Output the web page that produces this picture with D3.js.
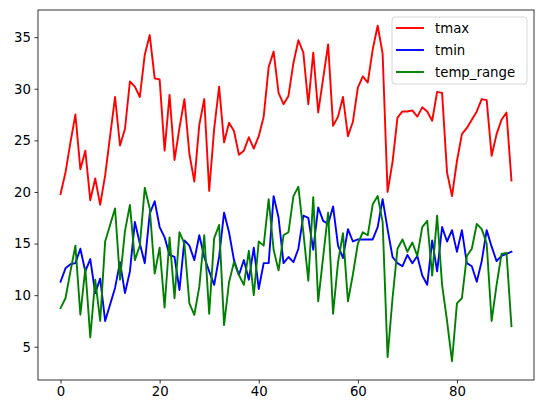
<!DOCTYPE html>
<html><head><meta charset="utf-8">
<script src="https://d3js.org/d3.v7.min.js"></script>
<style>body{margin:0;background:#fff}text{font-family:"DejaVu Sans",sans-serif}</style>
</head><body><svg id="c" width="543" height="413"></svg>
<script>
const tmax = [19.8,21.9,24.8,27.5,22.2,24.0,19.2,21.3,18.75,21.6,25.4,29.2,24.5,26.1,30.7,30.2,29.2,33.3,35.2,31.0,30.9,24.0,29.4,23.1,26.2,29.0,23.7,21.0,26.5,29.0,
20.1,26.1,30.2,24.8,26.7,25.9,23.6,24.0,25.3,24.2,25.4,27.3,32.1,33.6,29.6,28.5,29.3,32.5,34.7,33.5,28.5,33.5,27.7,31.0,34.3,26.4,27.3,29.2,25.4,26.8,30.1,31.2,30.6,33.8,36.1,33.4,
20.0,22.9,27.2,27.8,27.8,27.9,27.3,28.2,27.8,26.9,29.7,29.6,21.9,19.6,23.0,25.6,26.2,27.0,27.8,29.0,28.9,23.5,25.6,27.0,27.7,21.1];
const tmin = [11.3,12.6,13.0,13.1,14.5,12.3,13.5,10.2,11.6,7.5,9.1,10.7,13.2,10.2,12.3,17.1,15.0,13.1,17.9,19.1,16.6,15.6,13.9,13.7,10.5,15.3,14.8,13.4,15.8,13.7,
12.3,11.0,13.7,18.0,16.1,13.4,11.95,13.4,11.5,14.6,10.6,13.1,13.1,19.6,17.5,13.1,13.7,13.2,14.5,17.7,17.5,14.4,18.5,17.2,16.9,18.6,14.8,13.6,16.4,15.2,15.4,15.4,15.4,15.4,16.6,19.3,
16.4,13.7,13.1,12.8,13.9,13.1,13.8,11.9,11.0,15.3,12.3,16.6,15.2,16.3,14.2,16.3,13.1,12.8,11.3,13.3,16.3,14.7,13.3,13.8,14.0,14.2];
const tempRange = [8.75,9.7,12.3,14.8,8.1,12.6,5.9,11.5,7.5,15.2,16.8,18.4,11.5,16.2,18.75,13.4,14.8,20.4,18.4,12.1,14.6,8.8,15.6,9.7,16.1,15.0,9.2,8.1,10.8,15.8,
8.2,15.5,16.8,7.1,11.25,13.2,11.95,11.0,14.3,10.0,15.2,14.8,19.3,14.4,12.4,15.8,16.1,19.6,20.5,16.1,11.4,19.5,9.4,13.7,18.0,8.2,13.2,16.0,9.4,12.0,15.0,16.1,15.8,18.8,19.6,17.1,
4.0,9.7,14.5,15.4,14.2,15.1,13.8,16.6,17.2,11.9,17.7,11.0,7.5,3.6,9.2,9.7,13.8,14.5,16.9,16.4,15.0,7.5,11.0,14.0,14.1,7.0];
const seriesNames = ["tmax","tmin","temp_range"];
const seriesColors = ["red","blue","green"];
const xTicks = [0,20,40,60,80];
const yTicks = [5,10,15,20,25,30,35];

const svg = d3.select("#c");
const L=38,R=534,T=10,B=380;
const x = d3.scaleLinear().domain([-4.55,95.55]).range([L,R]);
const y = d3.scaleLinear().domain([1.78,37.63]).range([B,T]);
const all=[tmax,tmin,tempRange];
const line=d3.line().x((d,i)=>x(i)).y(d=>y(d));
const g=svg.append("g");
all.forEach((s,k)=>g.append("path").datum(s).attr("d",line).attr("fill","none").attr("stroke",seriesColors[k]).attr("stroke-width",1.9).attr("stroke-linejoin","round").attr("stroke-linecap","square"));
const xa=svg.append("g").attr("transform",`translate(0,${B})`).call(d3.axisBottom(x).tickValues(xTicks).tickSize(3.5).tickPadding(3.5));
const ya=svg.append("g").attr("transform",`translate(${L},0)`).call(d3.axisLeft(y).tickValues(yTicks).tickSize(3.5).tickPadding(3.5));
[xa,ya].forEach(a=>{a.select(".domain").remove();a.selectAll("text").attr("font-size",13.3).attr("fill","#000").attr("font-family","DejaVu Sans");a.selectAll("line").attr("stroke","#000").attr("stroke-width",0.8);});
svg.append("rect").attr("x",L).attr("y",T).attr("width",R-L).attr("height",B-T).attr("fill","none").attr("stroke","#000").attr("stroke-width",0.8);
const lg=svg.append("g");
lg.append("rect").attr("x",392).attr("y",17).attr("width",135).attr("height",67).attr("rx",3).attr("fill","#fff").attr("fill-opacity",0.8).attr("stroke","#ccc").attr("stroke-width",0.8);
seriesNames.forEach((n,k)=>{const yy=28+k*22;
lg.append("line").attr("x1",396).attr("x2",424).attr("y1",yy).attr("y2",yy).attr("stroke",seriesColors[k]).attr("stroke-width",1.9);
lg.append("text").attr("x",435).attr("y",yy+5).attr("font-size",13.3).text(n);});
</script></body></html>
